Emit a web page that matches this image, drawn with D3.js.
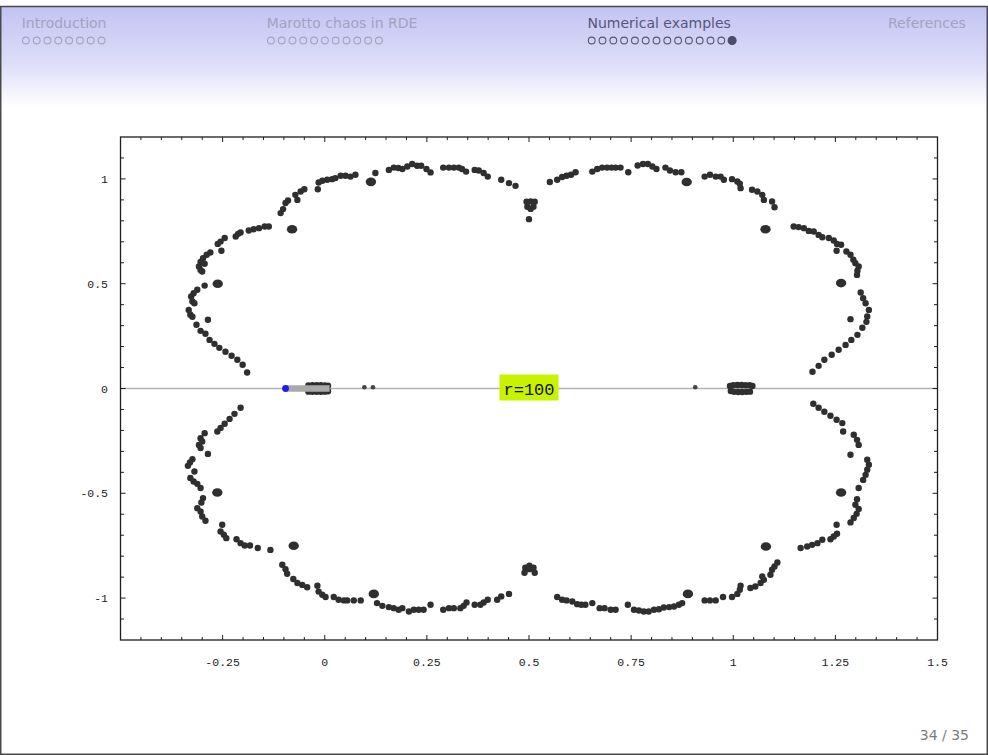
<!DOCTYPE html>
<html><head><meta charset="utf-8">
<script src="https://cdn.jsdelivr.net/npm/d3@7"></script>
<style>body{margin:0;background:#fff}svg{display:block}</style>
</head><body>
<script>
// ---------- data ----------
const sections = ["Introduction", "Marotto chaos in RDE", "Numerical examples", "References"];
const sectionFrames = [8, 11, 14, 0];
const currentSection = 2, currentFrame = 13;
const pageLabel = "34 / 35";
const paramLabel = "r=100";
const labelAt = [0.5, 0];

const xTickValues = [-0.25, 0, 0.25, 0.5, 0.75, 1, 1.25, 1.5];
const xTickLabels = ["-0.25", "0", "0.25", "0.5", "0.75", "1", "1.25", "1.5"];
const yTickValues = [-1, -0.5, 0, 0.5, 1];
const yTickLabels = ["-1", "-0.5", "0", "0.5", "1"];

const upperLeft = [[0.124,1.028],[0.157,1.043],[0.169,1.054],[0.180,1.052],[-0.017,0.951],[-0.015,0.983],[-0.006,0.991],[0.006,0.996],[0.018,0.999],[0.026,1.004],[0.039,1.015],[0.051,1.015],[0.063,1.011],[0.075,1.020],[-0.067,0.900],[-0.072,0.924],[-0.059,0.940],[-0.050,0.951],[-0.108,0.837],[-0.102,0.856],[-0.096,0.885],[-0.090,0.897],[-0.147,0.773],[-0.137,0.773],[-0.161,0.765],[-0.174,0.760],[-0.186,0.754],[-0.206,0.744],[-0.218,0.725],[-0.212,0.738],[-0.245,0.718],[-0.255,0.701],[-0.262,0.690],[-0.253,0.657],[-0.280,0.649],[-0.289,0.638],[-0.298,0.622],[-0.304,0.604],[-0.294,0.595],[-0.308,0.582],[-0.304,0.566],[-0.300,0.558],[-0.294,0.491],[-0.312,0.471],[-0.321,0.455],[-0.327,0.439],[-0.324,0.415],[-0.319,0.407],[-0.333,0.375],[-0.329,0.352],[-0.324,0.342],[-0.286,0.328],[-0.314,0.304],[-0.304,0.275],[-0.292,0.261],[-0.282,0.232],[-0.270,0.213],[-0.258,0.194],[-0.243,0.175],[-0.228,0.156],[-0.214,0.137],[-0.201,0.113],[-0.190,0.076]];
const upperMiddle = [[0.190,1.047],[0.202,1.059],[0.214,1.071],[0.226,1.063],[0.236,1.063],[0.249,1.047],[0.259,1.031],[0.290,1.054],[0.304,1.054],[0.316,1.054],[0.328,1.054],[0.336,1.047],[0.346,1.035],[0.367,1.043],[0.377,1.040],[0.389,1.028],[0.399,1.011],[0.432,0.996],[0.451,0.980],[0.467,0.967],[0.494,0.891],[0.504,0.893],[0.514,0.891],[0.496,0.867],[0.511,0.867],[0.504,0.857],[0.500,0.808],[0.551,0.985],[0.569,0.996],[0.581,1.009],[0.592,1.015],[0.603,1.020],[0.614,1.032],[0.655,1.035],[0.667,1.047],[0.679,1.054],[0.691,1.054],[0.702,1.054],[0.712,1.054],[0.724,1.054],[0.743,1.032],[0.766,1.064],[0.779,1.071],[0.791,1.071],[0.802,1.059],[0.812,1.047],[0.834,1.054],[0.845,1.040],[0.859,1.032],[0.873,1.032]];
const upperRight = [[0.930,1.011],[0.943,1.020],[0.957,1.011],[0.969,1.011],[0.977,0.996],[0.997,0.999],[1.010,0.988],[1.018,0.956],[1.016,0.977],[1.046,0.948],[1.059,0.940],[1.071,0.924],[1.075,0.900],[1.095,0.892],[1.101,0.865],[1.148,0.773],[1.160,0.770],[1.173,0.765],[1.185,0.752],[1.197,0.749],[1.209,0.733],[1.218,0.722],[1.234,0.718],[1.246,0.706],[1.254,0.690],[1.264,0.686],[1.253,0.657],[1.277,0.654],[1.287,0.638],[1.294,0.614],[1.299,0.598],[1.307,0.582],[1.304,0.562],[1.303,0.542],[1.312,0.458],[1.318,0.431],[1.324,0.407],[1.332,0.375],[1.328,0.344],[1.287,0.331],[1.326,0.318],[1.316,0.290],[1.304,0.256],[1.289,0.232],[1.275,0.208],[1.258,0.185],[1.241,0.161],[1.223,0.137],[1.209,0.108],[1.194,0.080]];
const lowerLeft = [[-0.263,-0.205],[-0.294,-0.213],[-0.304,-0.237],[-0.300,-0.253],[-0.308,-0.269],[-0.304,-0.284],[-0.286,-0.312],[-0.324,-0.337],[-0.330,-0.353],[-0.335,-0.369],[-0.319,-0.396],[-0.329,-0.427],[-0.321,-0.444],[-0.312,-0.455],[-0.304,-0.475],[-0.298,-0.523],[-0.302,-0.544],[-0.312,-0.571],[-0.304,-0.587],[-0.300,-0.611],[-0.292,-0.631],[-0.251,-0.650],[-0.255,-0.682],[-0.247,-0.698],[-0.241,-0.714],[-0.216,-0.719],[-0.206,-0.738],[-0.196,-0.749],[-0.183,-0.749],[-0.164,-0.761],[-0.133,-0.770],[-0.104,-0.841],[-0.096,-0.862],[-0.092,-0.884],[-0.077,-0.909],[-0.067,-0.928],[-0.055,-0.937],[-0.043,-0.948],[-0.018,-0.941],[-0.015,-0.969],[-0.006,-0.984],[0.002,-0.995],[0.022,-0.995],[0.034,-1.008],[0.047,-1.011],[0.055,-1.011],[0.071,-1.011],[0.088,-1.011],[0.128,-1.024],[0.141,-1.037],[0.157,-1.043],[0.169,-1.048],[0.181,-1.056],[-0.206,-0.092],[-0.221,-0.121],[-0.233,-0.145],[-0.245,-0.168],[-0.255,-0.188]];
const lowerMiddle = [[0.190,-1.048],[0.206,-1.064],[0.218,-1.056],[0.230,-1.056],[0.242,-1.056],[0.259,-1.032],[0.290,-1.056],[0.304,-1.048],[0.316,-1.048],[0.332,-1.048],[0.340,-1.037],[0.347,-1.021],[0.367,-1.032],[0.381,-1.032],[0.389,-1.021],[0.399,-1.008],[0.422,-1.008],[0.432,-0.992],[0.451,-0.980],[0.491,-0.855],[0.501,-0.846],[0.511,-0.855],[0.501,-0.862],[0.489,-0.879],[0.514,-0.879],[0.569,-0.995],[0.581,-1.008],[0.592,-1.011],[0.606,-1.016],[0.618,-1.029],[0.628,-1.032],[0.638,-1.032],[0.655,-1.024],[0.673,-1.048],[0.685,-1.048],[0.700,-1.056],[0.712,-1.056],[0.742,-1.032],[0.757,-1.056],[0.769,-1.059],[0.781,-1.064],[0.793,-1.064],[0.806,-1.056],[0.818,-1.053],[0.830,-1.045],[0.843,-1.043],[0.855,-1.040],[0.867,-1.032],[0.875,-1.024]];
const lowerRight = [[0.930,-1.011],[0.943,-1.011],[0.957,-1.011],[0.975,-0.995],[0.997,-0.995],[1.010,-0.980],[1.018,-0.941],[1.016,-0.960],[1.042,-0.952],[1.054,-0.945],[1.067,-0.928],[1.075,-0.913],[1.071,-0.897],[1.091,-0.889],[1.095,-0.865],[1.101,-0.849],[1.108,-0.830],[1.165,-0.761],[1.181,-0.754],[1.193,-0.746],[1.206,-0.738],[1.218,-0.722],[1.238,-0.719],[1.246,-0.706],[1.254,-0.693],[1.253,-0.650],[1.287,-0.639],[1.295,-0.618],[1.302,-0.598],[1.307,-0.575],[1.299,-0.555],[1.303,-0.528],[1.307,-0.475],[1.318,-0.436],[1.324,-0.412],[1.328,-0.388],[1.332,-0.364],[1.328,-0.340],[1.287,-0.316],[1.307,-0.269],[1.303,-0.245],[1.295,-0.221],[1.269,-0.205],[1.267,-0.165],[1.253,-0.149],[1.238,-0.130],[1.223,-0.111],[1.209,-0.092],[1.196,-0.073]];
const heavyPoints = [[0.113,0.986],[-0.080,0.760],[-0.262,0.500],[0.886,0.985],[1.079,0.760],[1.264,0.503],[-0.263,-0.496],[-0.076,-0.750],[0.120,-0.980],[0.889,-0.980],[1.080,-0.754],[1.264,-0.496]];
const axisCluster = [[-0.040,0.015],[-0.030,0.016],[-0.020,0.016],[-0.010,0.016],[0.000,0.015],[0.008,0.013],[-0.040,-0.015],[-0.030,-0.016],[-0.020,-0.016],[-0.010,-0.016],[0.000,-0.015],[0.008,-0.013],[0.992,0.012],[1.000,0.016],[1.010,0.017],[1.020,0.017],[1.030,0.016],[1.040,0.016],[1.047,0.012],[0.994,-0.012],[1.002,-0.016],[1.012,-0.017],[1.022,-0.017],[1.032,-0.016],[1.041,-0.015]];
const faintPoints = [[0.097,0.006],[0.118,0.006],[0.907,0.006]];
const pathSegment = [[-0.096,0],[0.012,0]];
const startPoint = [-0.096, 0];

// ---------- layout ----------
const W = 988, H = 755;
const svg = d3.select("body").append("svg").attr("width", W).attr("height", H);
svg.append("rect").attr("width", W).attr("height", H).attr("fill", "#fff");

const defs = svg.append("defs");
const g = defs.append("linearGradient").attr("id", "hdr").attr("x1", 0).attr("y1", 0).attr("x2", 0).attr("y2", 1);
g.append("stop").attr("offset", "0").attr("stop-color", "#c3c3f3");
g.append("stop").attr("offset", "0.55").attr("stop-color", "#dcdcf8");
g.append("stop").attr("offset", "1").attr("stop-color", "#ffffff");
svg.append("rect").attr("x", 0).attr("y", 7).attr("width", W).attr("height", 100).attr("fill", "url(#hdr)");

// header nav
const secLeft = [21.7, 266.7, 587.5, 888];
const inactive = "#a2a2c2", active = "#57577b";
sections.forEach((s, i) => {
  const col = i === currentSection ? active : inactive;
  svg.append("text").attr("x", secLeft[i]).attr("y", 27.5)
    .attr("font-family", "DejaVu Sans").attr("font-size", 14).attr("fill", col).text(s);
  for (let k = 0; k < sectionFrames[i]; k++) {
    const filled = i === currentSection && k === currentFrame;
    svg.append("circle").attr("cx", secLeft[i] + 4.2 + k * 10.8).attr("cy", 40.5).attr("r", filled ? 4 : 3.4)
      .attr("fill", filled ? "#4b4b6b" : "none").attr("stroke", filled ? "#4b4b6b" : col).attr("stroke-width", 1.1);
  }
});

// footer
svg.append("text").attr("x", 969).attr("y", 740).attr("text-anchor", "end")
  .attr("font-family", "DejaVu Sans").attr("font-size", 14).attr("fill", "#7c7c7c").text(pageLabel);

// slide border
svg.append("rect").attr("x", 0.75).attr("y", 6.5).attr("width", W - 1.5).attr("height", H - 7.25)
  .attr("fill", "none").attr("stroke", "#4a4a4a").attr("stroke-width", 1.5);

// ---------- plot ----------
const L = 120.5, R = 937.5, T = 137, B = 640;
const x = d3.scaleLinear().domain([-0.5, 1.5]).range([L, R]);
const y = d3.scaleLinear().domain([-1.2, 1.2]).range([B, T]);
const plot = svg.append("g");

// zero line
plot.append("line").attr("x1", L).attr("x2", R).attr("y1", y(0)).attr("y2", y(0))
  .attr("stroke", "#b3b3b3").attr("stroke-width", 1.6);

const dotCol = "#2f2f2f";
const allPts = [].concat(upperLeft, upperMiddle, upperRight, lowerLeft, lowerMiddle, lowerRight, axisCluster);
plot.selectAll("circle.pt").data(allPts).join("circle").attr("class", "pt")
  .attr("cx", d => x(d[0])).attr("cy", d => y(d[1])).attr("r", 3.2).attr("fill", dotCol);
plot.selectAll("ellipse.hv").data(heavyPoints).join("ellipse").attr("class", "hv")
  .attr("cx", d => x(d[0])).attr("cy", d => y(d[1])).attr("rx", 5.2).attr("ry", 4.3).attr("fill", dotCol);
plot.selectAll("circle.fp").data(faintPoints).join("circle").attr("class", "fp")
  .attr("cx", d => x(d[0])).attr("cy", d => y(d[1])).attr("r", 2.3).attr("fill", "#444");

// gray trajectory bar + start point
plot.append("line").attr("x1", x(pathSegment[0][0])).attr("x2", x(pathSegment[1][0]))
  .attr("y1", y(pathSegment[0][1])).attr("y2", y(pathSegment[1][1]))
  .attr("stroke", "#a9a9a9").attr("stroke-width", 6.5);
plot.append("circle").attr("cx", x(startPoint[0])).attr("cy", y(startPoint[1])).attr("r", 3.4).attr("fill", "#1c1cf0");

// label
const lx = x(labelAt[0]), ly = y(labelAt[1]);
plot.append("rect").attr("x", lx - 29.5).attr("y", ly - 14).attr("width", 59).attr("height", 26).attr("fill", "#c8f200");
plot.append("text").attr("x", lx).attr("y", ly + 6).attr("text-anchor", "middle")
  .attr("font-family", "Liberation Mono").attr("font-size", 17).attr("fill", "#111").text(paramLabel);

// frame
plot.append("rect").attr("x", L).attr("y", T).attr("width", R - L).attr("height", B - T)
  .attr("fill", "none").attr("stroke", "#1e1e1e").attr("stroke-width", 1.3);

// ticks (inward, all four sides)
const tk = plot.append("g").attr("stroke", "#1e1e1e").attr("stroke-width", 1);
const xMinor = d3.range(-0.45, 1.5 - 1e-9, 0.05);
xMinor.forEach(v => {
  const major = Math.abs(v / 0.25 - Math.round(v / 0.25)) < 1e-6;
  const len = major ? 5 : 3;
  tk.append("line").attr("x1", x(v)).attr("x2", x(v)).attr("y1", B).attr("y2", B - len);
  tk.append("line").attr("x1", x(v)).attr("x2", x(v)).attr("y1", T).attr("y2", T + len);
});
const yMinor = d3.range(-1.1, 1.2 - 1e-9, 0.1);
yMinor.forEach(v => {
  const major = Math.abs(v / 0.5 - Math.round(v / 0.5)) < 1e-6;
  const len = major ? 5 : 3.5;
  tk.append("line").attr("y1", y(v)).attr("y2", y(v)).attr("x1", L).attr("x2", L + len);
  tk.append("line").attr("y1", y(v)).attr("y2", y(v)).attr("x1", R).attr("x2", R - len);
});

// tick labels
xTickValues.forEach((v, i) => {
  plot.append("text").attr("x", x(v)).attr("y", 666).attr("text-anchor", "middle")
    .attr("font-family", "Liberation Mono").attr("font-size", 11.5).attr("fill", "#222").text(xTickLabels[i]);
});
yTickValues.forEach((v, i) => {
  plot.append("text").attr("x", 108).attr("y", y(v) + 4).attr("text-anchor", "end")
    .attr("font-family", "Liberation Mono").attr("font-size", 11.5).attr("fill", "#222").text(yTickLabels[i]);
});
</script>
</body></html>
